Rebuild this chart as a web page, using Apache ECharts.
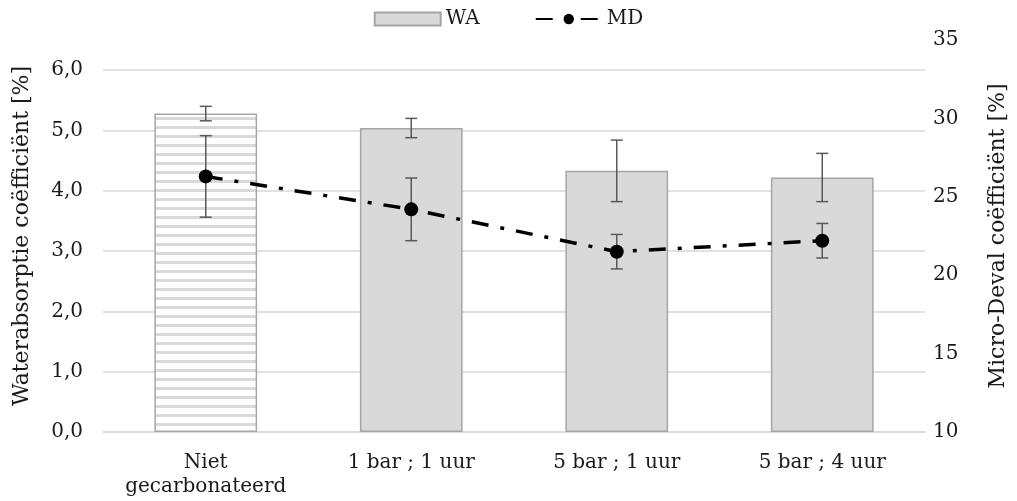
<!DOCTYPE html>
<html lang="nl">
<head>
    <meta charset="UTF-8">
    <title>WA en MD</title>
    <style>
        html, body {margin: 0; padding: 0; background: #fff;}
        #chart {width: 1017px; height: 501px;}
    </style>
</head>
<body>
    <div id="chart"></div>

    <script src="https://cdn.jsdelivr.net/npm/echarts/dist/echarts.min.js"></script>
    <script>
// data
const categories = ['Niet\ngecarbonateerd', '1 bar ; 1 uur', '5 bar ; 1 uur', '5 bar ; 4 uur'];
const waValues = [5.28, 5.04, 4.33, 4.22];
const waError = [0.12, 0.16, 0.51, 0.40];
const mdValues = [26.3, 24.2, 21.5, 22.2];
const mdError = [2.6, 2.0, 1.1, 1.1];

const font = 'DejaVu Serif';
const textColor = '#1a1a1a';

// striped fill for the first bar
const stripe = document.createElement('canvas');
stripe.width = 9;
stripe.height = 9;
const sctx = stripe.getContext('2d');
sctx.fillStyle = '#ffffff';
sctx.fillRect(0, 0, 9, 9);
sctx.fillStyle = '#d9d9d9';
sctx.fillRect(0, 0, 9, 3);

function errorBar(params, api) {
    const x = api.value(0);
    const lo = api.coord([x, api.value(1)]);
    const hi = api.coord([x, api.value(2)]);
    const half = 6;
    const style = {stroke: '#595959', lineWidth: 1.5};
    return {
        type: 'group',
        children: [
            {type: 'line', shape: {x1: hi[0], y1: hi[1], x2: lo[0], y2: lo[1]}, style: style},
            {type: 'line', shape: {x1: hi[0] - half, y1: hi[1], x2: hi[0] + half, y2: hi[1]}, style: style},
            {type: 'line', shape: {x1: lo[0] - half, y1: lo[1], x2: lo[0] + half, y2: lo[1]}, style: style}
        ]
    };
}

const waErrData = waValues.map((v, i) => [i, v - waError[i], v + waError[i]]);
const mdErrData = mdValues.map((v, i) => [i, v - mdError[i], v + mdError[i]]);

const chart = echarts.init(document.getElementById('chart'));

chart.setOption({
    animation: false,
    textStyle: {fontFamily: font, color: textColor},
    legend: {
        data: [{name: 'WA', icon: 'rect'}, {name: 'MD'}],
        top: 4,
        left: 'center',
        itemGap: 55,
        itemWidth: 66,
        itemHeight: 13,
        textStyle: {fontFamily: font, fontSize: 20, color: textColor}
    },
    grid: {left: 103, right: 87, top: 40, bottom: 69},
    xAxis: {
        type: 'category',
        data: categories,
        axisLine: {lineStyle: {color: '#d9d9d9', width: 1.5}},
        axisTick: {show: false},
        axisLabel: {fontFamily: font, fontSize: 20, color: textColor, margin: 19, lineHeight: 24, interval: 0}
    },
    yAxis: [
        {
            type: 'value',
            min: 0,
            max: 6.5,
            interval: 1,
            name: 'Waterabsorptie coëfficiënt [%]',
            nameLocation: 'middle',
            nameGap: 70,
            nameTextStyle: {fontFamily: font, fontSize: 22, color: textColor},
            axisLine: {show: false},
            axisTick: {show: false},
            axisLabel: {
                fontFamily: font, fontSize: 20, color: textColor, margin: 20,
                showMaxLabel: false,
                formatter: v => v > 6 ? '' : v.toFixed(1).replace('.', ',')
            },
            splitLine: {showMaxLine: false, lineStyle: {color: '#d9d9d9', width: 1.5}}
        },
        {
            type: 'value',
            min: 10,
            max: 35,
            interval: 5,
            name: 'Micro-Deval coëfficiënt [%]',
            nameLocation: 'middle',
            nameGap: 62,
            nameRotate: 90,
            nameTextStyle: {fontFamily: font, fontSize: 22, color: textColor},
            axisLine: {show: false},
            axisTick: {show: false},
            axisLabel: {fontFamily: font, fontSize: 20, color: textColor, margin: 8},
            splitLine: {show: false}
        }
    ],
    series: [
        {
            name: 'WA',
            type: 'bar',
            barWidth: '50%',
            itemStyle: {color: '#d9d9d9', borderColor: '#a6a6a6', borderWidth: 1.5},
            data: waValues.map((v, i) => i === 0
                ? {value: v, itemStyle: {color: {image: stripe, repeat: 'repeat'}}}
                : v)
        },
        {
            type: 'custom',
            renderItem: errorBar,
            data: waErrData,
            z: 3,
            silent: true
        },
        {
            type: 'custom',
            yAxisIndex: 1,
            renderItem: errorBar,
            data: mdErrData,
            z: 3,
            silent: true
        },
        {
            name: 'MD',
            type: 'line',
            yAxisIndex: 1,
            data: mdValues,
            symbol: 'circle',
            symbolSize: 14,
            z: 5,
            itemStyle: {color: '#000'},
            lineStyle: {color: '#000', width: 3.5, type: [17, 12, 4, 12]}
        }
    ]
});
    </script>
</body>
</html>
